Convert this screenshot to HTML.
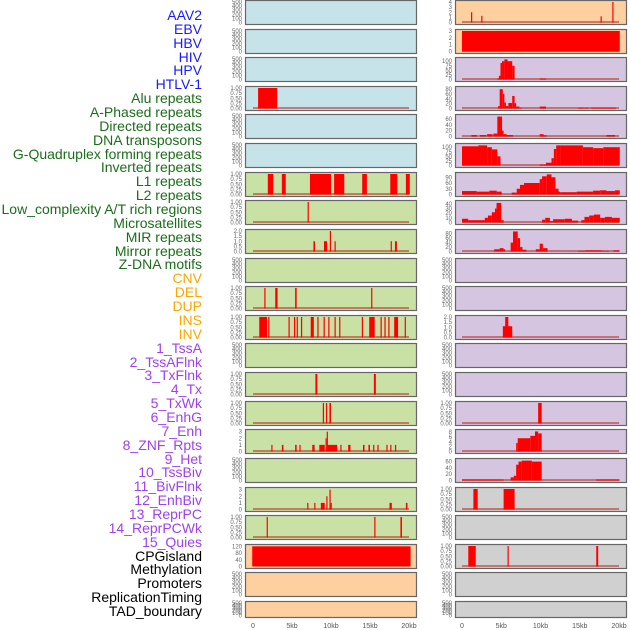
<!DOCTYPE html>
<html><head><meta charset="utf-8"><style>
body{margin:0;background:#fff;width:630px;height:630px;overflow:hidden;position:relative;font-family:"Liberation Sans",sans-serif}
.lbl{position:absolute;right:428px;font-size:14px;line-height:14px;white-space:nowrap}
</style></head><body>
<div id="labels"></div>
<svg id="chart" width="630" height="630" style="position:absolute;left:0;top:0"></svg>
<script>
const labelNames=["AAV2","EBV","HBV","HIV","HPV","HTLV-1","Alu repeats","A-Phased repeats","Directed repeats","DNA transposons","G-Quadruplex forming repeats","Inverted repeats","L1 repeats","L2 repeats","Low_complexity A/T rich regions","Microsatellites","MIR repeats","Mirror repeats","Z-DNA motifs","CNV","DEL","DUP","INS","INV","1_TssA","2_TssAFlnk","3_TxFlnk","4_Tx","5_TxWk","6_EnhG","7_Enh","8_ZNF_Rpts","9_Het","10_TssBiv","11_BivFlnk","12_EnhBiv","13_ReprPC","14_ReprPCWk","15_Quies","CPGisland","Methylation","Promoters","ReplicationTiming","TAD_boundary"];
const labelGroups=[6,13,5,15,5];
const groupColors=["#1a1aff","#1a6e1a","#ffa500","#a040f0","#000"];
const xTicks=[0,5,10,15,20];
const xTickLabels=["0","5kb","10kb","15kb","20kb"];
const leftBg=["b","b","b","b","b","b","g","g","g","g","g","g","g","g","g","g","g","g","g","o","o","o"];
const rightBg=["o","o","p","p","p","p","p","p","p","p","p","p","p","p","p","p","p","y","y","y","y","y"];
const E=[0,100,200,300,400,500],U=[0,0.25,0.5,0.75,1];
const leftTicks=[E,E,E,U,E,E,U,U,[0,0.5,1,1.5,2],E,U,U,E,U,U,[0,1,2,3],E,[0,1,2,3],U,[0,40,80,120],E,E];
const leftMax=[500,500,500,1,500,500,1,1,2,500,1,1,500,1,1,3.1,500,3.1,1,122,500,500];
const rightTicks=[[0,1,2,3,4],[0,1,2,3],[0,25,50,75,100],[0,20,40,60,80],[0,20,40,60],[0,25,50,75,100],[0,30,60,90],[0,10,20,30,40],[0,20,40,60,80],E,E,[0,0.5,1,1.5,2],E,E,U,[0,2,4,6,8],[0,20,40,60],U,E,U,E,E];
const rightMax=[4,3,112,85,70,112,107,44,92,500,500,2,500,500,1,8.5,65,1,500,1,500,500];
const leftBars=[[],[],[],[[0.65,3.1,1]],[],[],
[[1.9,2.6,1],[3.7,4.2,1],[7.3,10,1],[10.4,11.7,1],[14,14.6,1],[17.6,18.5,1],[19.6,20.1,1]],
[[7.0,7.15,1]],
[[7.75,7.95,1],[9.1,9.5,1],[9.85,10.0,2],[10.45,10.6,1],[17.65,17.8,1],[18.2,18.45,1]],
[],
[[1.45,1.6,1],[2.85,3.15,1],[5.4,5.6,1],[15.15,15.3,1]],
[[0.8,1.8,1],[1.95,2.1,1],[4.55,4.7,1],[5.25,5.4,1],[5.6,5.7,1],[6.15,6.3,1],[7.4,7.8,1],[8.25,8.4,1],[9.05,9.2,1],[9.65,9.8,1],[10.45,10.6,1],[11.05,11.2,1],[13.95,14.1,1],[14.9,15.6,1],[16.35,16.5,1],[16.85,17.0,1],[17.35,17.5,1],[18.1,18.6,1],[19.45,19.6,1]],
[],
[[8.0,8.25,1],[15.5,15.75,1]],
[[8.95,9.1,1],[9.35,9.5,1],[9.8,10.0,1]],
[[2.35,2.5,1],[3.7,3.9,1],[5.4,5.6,1],[5.95,6.1,1],[7.6,7.9,1],[8.5,9.2,1],[9.3,9.45,2],[9.45,9.55,3],[9.55,10.8,1],[11.2,11.35,1],[12.2,12.5,1],[14.1,14.3,1],[14.8,15.0,1],[15.4,15.55,1],[15.95,16.1,1],[17.1,17.25,1],[17.6,17.75,1],[18.2,18.35,1]],
[],
[[6.95,7.1,1],[7.85,8.0,1],[8.7,9.2,1],[9.4,9.55,2],[9.8,9.95,3],[9.95,10.05,1],[17.5,17.8,1],[19.6,19.8,1]],
[[1.75,1.9,1],[15.55,15.7,1],[18.9,19.1,1]],
[[-0.1,20.2,120]],[],[]];
const rightBars=[
[[1.15,1.25,2],[2.45,2.55,1.3],[17.65,17.75,1.2],[19.15,19.25,4]],
[[0,20.1,3]],
[[4.5,4.7,5],[4.7,4.9,20],[4.9,5.1,90],[5.1,5.4,100],[5.4,5.8,110],[5.8,6.4,100],[6.4,6.7,75],[9.9,10.7,5]],
[[4.6,4.8,10],[4.8,5.2,80],[5.2,5.4,60],[5.4,5.6,25],[5.6,5.9,10],[5.9,6.4,23],[6.4,6.7,52],[6.7,6.9,22],[6.9,7.3,8],[7.3,7.6,3],[9.9,10.7,8],[14.8,15.5,3],[15.6,16.1,3],[16.4,19.6,3]],
[[1.2,1.9,5],[2.3,3.1,5],[3.2,3.9,8],[4.0,4.5,10],[4.5,5.1,68],[5.1,5.3,20],[5.3,5.7,8],[5.7,6.5,5],[9.9,10.4,8],[10.4,10.8,4],[18.4,19.5,5]],
[[0,2.1,105],[2.1,3.2,110],[3.2,3.8,100],[3.8,4.5,88],[4.5,4.9,50],[9.9,10.7,5],[10.7,11.4,15],[11.4,11.7,40],[11.7,12.0,90],[12.0,12.6,110],[12.6,15.4,110],[15.4,16.7,100],[16.7,18.0,95],[18.0,20.1,100]],
[[0,1.87,18],[1.87,3.48,15],[3.48,4.42,20],[4.42,5.05,15],[6.33,6.97,10],[6.97,7.39,30],[7.39,7.9,50],[7.9,9.9,60],[9.9,10.2,80],[10.2,10.8,95],[10.8,11.4,105],[11.4,11.9,90],[11.9,12.3,30],[12.3,12.5,15],[12.5,14.6,12],[14.6,16.7,15],[16.7,17.6,20],[17.6,18.4,22],[18.4,19.5,18],[19.5,20.1,22]],
[[0,0.8,8],[0.8,2.9,5],[2.9,3.3,10],[3.3,3.8,15],[3.8,4.2,22],[4.2,4.4,30],[4.4,5.0,42],[5.0,5.3,5],[10.2,10.6,6],[10.6,11.2,10],[11.2,11.6,3],[11.6,13.1,7],[13.1,14.0,8],[14.0,14.8,4],[15.2,15.6,5],[15.6,16.2,12],[16.2,16.8,15],[16.8,17.6,17],[17.6,18.2,10],[18.2,19.1,12],[19.1,20.1,10]],
[[4.1,4.8,10],[4.8,5.3,15],[5.3,5.5,10],[6.2,6.5,40],[6.5,7.1,90],[7.1,7.4,60],[7.4,7.7,20],[7.7,8.2,8],[9.4,9.9,10],[9.9,10.3,35],[10.3,10.9,15],[14.8,15.7,3],[15.7,17.8,5],[17.8,18.2,3],[18.3,18.7,3],[19.3,20.1,5]],
[],[],
[[5.2,6.4,1.1],[5.5,5.9,2]],
[],[],
[[9.7,10.15,1]],
[[6.9,7.1,3.5],[7.1,8.7,5.5],[8.7,9.3,6.5],[9.3,9.7,8.3],[9.7,10.15,7.5]],
[[0,5.3,3],[6.2,6.6,10],[6.6,6.9,15],[6.9,7.2,50],[7.2,7.6,60],[7.6,8.9,63],[8.9,10.15,60],[17.1,20.1,3]],
[[1.45,2.0,1],[5.3,6.7,1]],
[],
[[0.8,1.75,1],[5.8,5.95,1],[17.1,17.35,1]],
[],[]];

const bgColors={b:"#c7e3ea",g:"#c9e1a4",o:"#fecf9f",p:"#d5c5e1",y:"#d0d0d0"};
const NS="http://www.w3.org/2000/svg";
const svg=document.getElementById('chart');
function mk(tag,attrs,parent){const e=document.createElementNS(NS,tag);for(const k in attrs)e.setAttribute(k,attrs[k]);(parent||svg).appendChild(e);return e;}

// labels
const lab=document.getElementById('labels');
let gi=0,cnt=0;
labelNames.forEach((n,i)=>{
  while(cnt>=labelGroups[gi]){cnt=0;gi++;}
  cnt++;
  const d=document.createElement('div');
  d.className='lbl';
  d.textContent=n;
  d.style.top=(8+i*13.86)+'px';
  d.style.color=groupColors[gi];
  
  
  lab.appendChild(d);
});

const cols=[{x0:245,x1:416,zero:253,twenty:409,bg:leftBg,ticks:leftTicks,max:leftMax,bars:leftBars,tx:242},
            {x0:455,x1:626,zero:462,twenty:619,bg:rightBg,ticks:rightTicks,max:rightMax,bars:rightBars,tx:452}];
cols.forEach((c,ci)=>{
  const xs=kb=>c.zero+(kb)*(c.twenty-c.zero)/20;
  for(let r=0;r<22;r++){
    const top=Math.round(r*28.62)+0.5;
    const h=r===21?16:24;
    const g=mk('g',{});
    
    
    mk('rect',{x:c.x0+0.5,y:top,width:c.x1-c.x0,height:h,fill:bgColors[c.bg[r]],stroke:'#666','stroke-width':1.2},g);
    const ymax=c.max[r];
    const y0=top+h-2,yh=h-3.5;
    const ys=v=>y0-v/ymax*yh;
    c.ticks[r].forEach(t=>{
      const tt=mk('text',{x:c.tx,y:ys(t)+2,'font-size':6,fill:'#666','text-anchor':'end'},g);
      tt.textContent=(ymax===1&&U===c.ticks[r])?t.toFixed(2):(c.ticks[r][1]===0.5?t.toFixed(1):String(t));
    });
    const bars=c.bars[r];
    if(bars.length){
      if(!(ci===0&&r===19)) mk('rect',{x:xs(0),y:y0-1.5,width:xs(20)-xs(0),height:2,fill:'#c0392b',opacity:0.6},g);
      bars.forEach(b=>{
        const br=mk('rect',{x:xs(b[0]),y:ys(b[2]),width:Math.max(1.2,xs(b[1])-xs(b[0])),height:y0-ys(b[2]),fill:'#ff0000'},g);
        
        
      });
    }
  }
  xTicks.forEach((t,i)=>{
    const tx=mk('text',{x:xs(t),y:628,'font-size':7,fill:'#555','text-anchor':'middle'});
    
    
    tx.textContent=xTickLabels[i];
  });
});
</script>
</body></html>
